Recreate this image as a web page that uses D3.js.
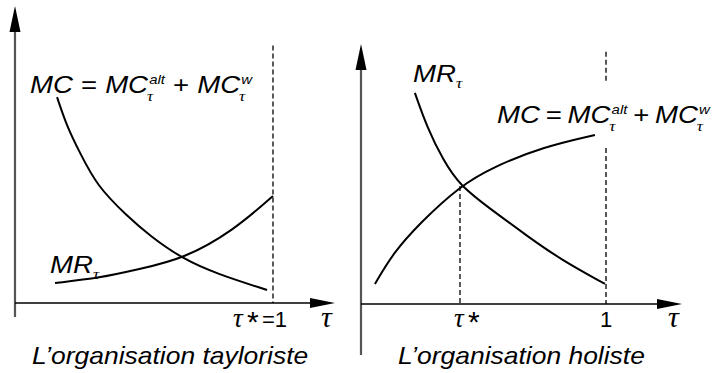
<!DOCTYPE html>
<html>
<head>
<meta charset="utf-8">
<script src="https://cdn.jsdelivr.net/npm/d3@7/dist/d3.min.js"></script>
<style>
  body { margin: 0; background: #fff; }
  text { font-family: "Liberation Sans", Arial, sans-serif; font-style: italic; fill: #000; }
  .tau { font-family: "Liberation Serif", "Times New Roman", serif; font-style: italic; }
  .up { font-style: normal; }
</style>
</head>
<body>
<svg id="chart" width="720" height="373"></svg>
<script>
// curves, x = tau (0..1), y = value (0..1)
var mcTaylor = [[0.163,0.792],[0.202,0.677],[0.252,0.577],[0.318,0.450],[0.434,0.335],[0.523,0.258],[0.651,0.169],[0.783,0.112],[0.977,0.050]];
var mrTaylor = [[0.155,0.077],[0.329,0.096],[0.484,0.131],[0.651,0.169],[0.845,0.277],[1.0,0.412]];
var mrHolist = [[0.220,0.812],[0.269,0.681],[0.335,0.554],[0.404,0.454],[0.539,0.358],[0.678,0.262],[0.812,0.173],[0.996,0.077]];
var mcHolist = [[0.057,0.077],[0.131,0.196],[0.241,0.312],[0.404,0.454],[0.539,0.527],[0.743,0.604],[0.955,0.650]];
var tauStar = [1, 0.404];       // tau* in each panel
var tauStarY = [null, 0.454];   // where the curves cross in the holist panel
var titles = ["L\u2019organisation tayloriste", "L\u2019organisation holiste"];

var sx = 1.15; // the source picture is stretched horizontally

var svg = d3.select("#chart");

var panels = [
  {x0: 15, x1: 273, y0: 303, y1: 43, yTip: 6, xTip: 335, yBot: 317},
  {x0: 361, x1: 606, y0: 304, y1: 44, yTip: 44, xTip: 682, yBot: 355}
];

var line = d3.line().curve(d3.curveBasis);

panels.forEach(function(p, i) {
  var g = svg.append("g");
  var x = d3.scaleLinear().domain([0, 1]).range([p.x0, p.x1]);
  var y = d3.scaleLinear().domain([0, 1]).range([p.y0, p.y1]);
  line.x(function(d) { return x(d[0]); }).y(function(d) { return y(d[1]); });

  // y axis (grey) + arrow
  g.append("line").attr("x1", x(0)).attr("x2", x(0)).attr("y1", p.yBot).attr("y2", p.yTip + 24)
    .attr("stroke", "#555").attr("stroke-width", 2.2);
  g.append("path").attr("d", "M" + x(0) + "," + p.yTip + "L" + (x(0) - 5.5) + "," + (p.yTip + 26) + "L" + (x(0) + 5.5) + "," + (p.yTip + 26) + "Z")
    .attr("fill", "#000");
  // x axis + arrow
  g.append("line").attr("x1", x(0)).attr("x2", p.xTip - 22).attr("y1", y(0)).attr("y2", y(0))
    .attr("stroke", "#000").attr("stroke-width", 1.6);
  g.append("path").attr("d", "M" + p.xTip + "," + y(0) + "L" + (p.xTip - 25) + "," + (y(0) - 5) + "L" + (p.xTip - 25) + "," + (y(0) + 5) + "Z")
    .attr("fill", "#000");

  // dashed guides
  function guide(xv, ya, yb) {
    g.append("line").attr("x1", x(xv)).attr("x2", x(xv)).attr("y1", y(ya)).attr("y2", y(yb))
      .attr("stroke", "#000").attr("stroke-width", 1.3).attr("stroke-dasharray", "5,3");
  }
  if (i === 0) {
    guide(1, 0.99, 0);
  } else {
    guide(1, 0.97, 0.85);
    guide(1, 0.6, 0);
    guide(tauStar[1], tauStarY[1], 0);
  }

  // curves
  var mc = i === 0 ? mcTaylor : mcHolist, mr = i === 0 ? mrTaylor : mrHolist;
  [mc, mr].forEach(function(c) {
    g.append("path").attr("d", line(c)).attr("fill", "none").attr("stroke", "#000").attr("stroke-width", 2);
  });

  // labels
  var eqPos = i === 0 ? [30, 93, 7] : [497, 123, 5];
  equation(g, eqPos[0], eqPos[1], eqPos[2]);
  var mrPos = i === 0 ? [50, 273] : [413, 82];
  mrLabel(g, mrPos[0], mrPos[1]);

  // tick labels under x axis
  var ty = 327;
  if (i === 0) {
    var t = g.append("g").attr("transform", "translate(" + (x(1) - 40) + "," + ty + ")");
    t.append("text").attr("class", "tau").attr("font-size", 27).attr("x", 0).text("\u03c4");
    t.append("text").attr("class", "up").attr("font-size", 30).attr("x", 14).attr("y", 5).text("*");
    t.append("text").attr("class", "up").attr("font-size", 22).attr("x", 29).text("=1");
  } else {
    var t2 = g.append("g").attr("transform", "translate(" + (x(tauStar[1]) - 6) + "," + ty + ")");
    t2.append("text").attr("class", "tau").attr("font-size", 27).attr("x", 0).text("\u03c4");
    t2.append("text").attr("class", "up").attr("font-size", 30).attr("x", 14).attr("y", 5).text("*");
    g.append("text").attr("class", "up").attr("font-size", 22).attr("x", x(1)).attr("y", ty)
      .attr("text-anchor", "middle").text("1");
  }
  g.append("text").attr("class", "tau").attr("font-size", 30).attr("x", p.xTip - 14).attr("y", ty).text("\u03c4");

  // panel title
  var tx = i === 0 ? 32 : 398;
  g.append("text").attr("font-size", 23).attr("transform", "translate(" + tx + ",364) scale(" + sx + ",1)")
    .text(titles[i]);
});

function equation(g, x0, y0, gap) {
  var t = g.append("g").attr("transform", "translate(" + x0 + "," + y0 + ") scale(" + sx + ",1)");
  var cx = 0;
  function piece(str, gp, cls) {
    var e = t.append("text").attr("x", cx).attr("font-size", 24).text(str);
    if (cls) e.attr("class", cls);
    cx += e.node().getComputedTextLength() + gp;
  }
  function scripts(sup) {
    var a = t.append("text").attr("x", cx + 1).attr("y", -9).attr("font-size", 13).text(sup);
    var b = t.append("text").attr("class", "tau").attr("x", cx - 1).attr("y", 8).attr("font-size", 15).text("\u03c4");
    cx += Math.max(a.node().getComputedTextLength() + 1, b.node().getComputedTextLength()) + gap;
  }
  piece("MC", gap); piece("=", gap, "up"); piece("MC", 0); scripts("alt");
  piece("+", gap, "up"); piece("MC", 0); scripts("w");
}

function mrLabel(g, x0, y0) {
  var t = g.append("g").attr("transform", "translate(" + x0 + "," + y0 + ") scale(" + sx + ",1)");
  var e = t.append("text").attr("font-size", 24).text("MR");
  t.append("text").attr("class", "tau").attr("x", e.node().getComputedTextLength()).attr("y", 6).attr("font-size", 15).text("\u03c4");
}
</script>
</body>
</html>
